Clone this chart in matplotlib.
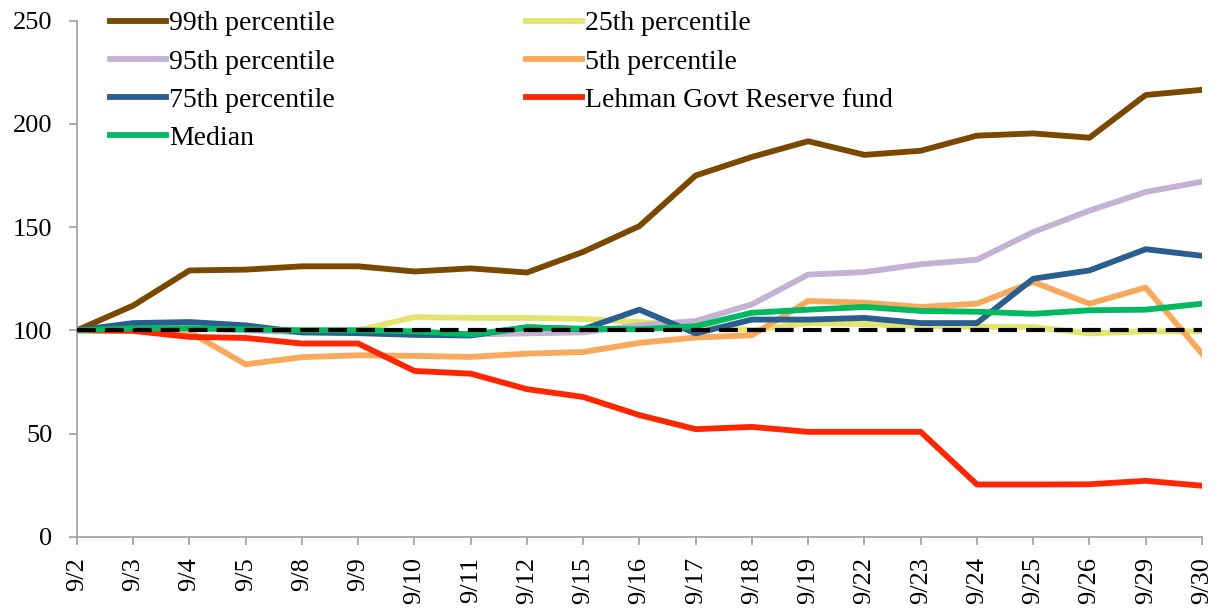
import matplotlib.pyplot as plt

# ---------------------------------------------------
dates = ["9/2", "9/3", "9/4", "9/5", "9/8", "9/9", "9/10", "9/11", "9/12", "9/15",
         "9/16", "9/17", "9/18", "9/19", "9/22", "9/23", "9/24", "9/25", "9/26", "9/29", "9/30"]

p99 = [100, 112, 129, 129.4, 131, 131, 128.5, 130, 128, 138,
       150.5, 175, 184, 191.6, 185, 187, 194.3, 195.4, 193.3, 214, 216.5]
p95 = [100, 101, 101, 100, 99, 99, 98, 98, 98.5, 99,
       102.4, 104.5, 112.6, 127, 128.2, 132, 134.2, 147.6, 158, 167, 172]
p75 = [100, 103.5, 104, 102.4, 99, 98.6, 97.8, 97.5, 101.5, 100.5,
       110, 98.5, 105.2, 105.2, 106, 103.5, 103.5, 125, 129, 139.3, 136.1]
median = [100, 101, 101, 100.5, 100, 100, 99.5, 98, 101.3, 100.8,
          100.5, 102, 108.5, 110, 111.3, 109.4, 109, 108, 109.7, 110, 112.9]
p25 = [100, 101, 101, 100.5, 100, 100, 106.4, 106, 106, 105.5,
       104, 102.4, 100, 103.5, 103, 102, 101.6, 101.6, 98.5, 99.5, 99.5]
p5 = [100, 100, 99.2, 83.5, 87, 87.9, 87.6, 87.1, 88.7, 89.5,
      93.9, 96.5, 97.6, 114.2, 113.4, 111.3, 112.9, 123.4, 112.9, 120.7, 88.7]
lehman = [100, 99.7, 96.8, 96.3, 93.6, 93.6, 80.3, 79, 71.5, 67.7,
          58.9, 52.1, 53.2, 50.8, 50.8, 50.8, 25.3, 25.3, 25.4, 27.1, 24.7]
baseline = [100] * len(dates)
# ---------------------------------------------------

plt.rcParams['font.family'] = ['Liberation Serif', 'DejaVu Serif']

fig = plt.figure(figsize=(12.21, 6.09), dpi=100)
ax = fig.add_axes([0.063, 0.1187, 0.9214, 0.8473])

x = range(len(dates))
lw = 4.2
l99, = ax.plot(x, p99, color='#7B4800', lw=lw, label='99th percentile', zorder=2)
l25, = ax.plot(x, p25, color='#E3E36E', lw=lw, label='25th percentile', zorder=2)
l95, = ax.plot(x, p95, color='#C4B2D4', lw=lw, label='95th percentile', zorder=2)
l5, = ax.plot(x, p5, color='#F9A95B', lw=lw, label='5th percentile', zorder=2)
l75, = ax.plot(x, p75, color='#2B5E90', lw=lw, label='75th percentile', zorder=2)
lleh, = ax.plot(x, lehman, color='#FF2600', lw=lw, label='Lehman Govt Reserve fund', zorder=2)
lmed, = ax.plot(x, median, color='#00B960', lw=lw, label='Median', zorder=2)
ax.plot(x, baseline, color='black', lw=3, linestyle=(0, (4.5, 2.2)), zorder=3)

ax.set_xlim(0, len(dates) - 1)
ax.set_ylim(0, 250)
ax.set_yticks(range(0, 251, 50))
ax.set_xticks(list(x))
ax.set_xticklabels(dates, rotation=90)

for side in ['top', 'right']:
    ax.spines[side].set_visible(False)
for side in ['left', 'bottom']:
    ax.spines[side].set_color('#A6A6A6')
    ax.spines[side].set_linewidth(1.3)
ax.tick_params(axis='both', colors='#A6A6A6', labelcolor='black', labelsize=19,
               length=5.5, width=1.3)
ax.tick_params(axis='y', pad=12)
ax.tick_params(axis='x', pad=9)

handles = [l99, l95, l75, lmed, l25, l5, lleh]
ax.legend(handles=handles, loc='upper left', ncol=2, frameon=False, fontsize=20,
          bbox_to_anchor=(110 / 1221, 1 - 11 / 609), bbox_transform=fig.transFigure,
          borderaxespad=0, borderpad=0, handlelength=2.0, handletextpad=0.12,
          labelspacing=0.46, columnspacing=6.9)

fig.savefig("out.png")
